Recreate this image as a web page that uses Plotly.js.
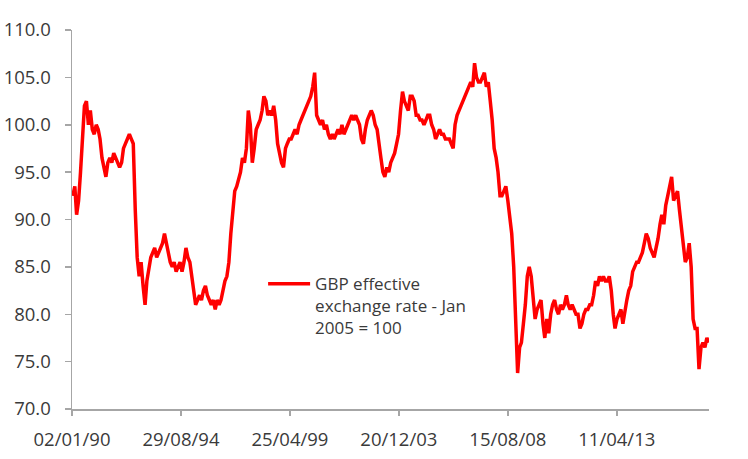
<!DOCTYPE html>
<html>
<head>
<meta charset="utf-8">
<script src="https://cdn.plot.ly/plotly-3.0.1.min.js"></script>
<style>
  html, body { margin: 0; padding: 0; background: #fff; }
  #chart { width: 748px; height: 459px; }
</style>
</head>
<body>
<div id="chart"></div>
<script>
// GBP effective exchange rate (Jan 2005 = 100), one value per month
var rate1990s = [
  92.5, 93.5, 90.5, 92.0, 95.0, 99.0, 102.0, 102.5, 100.0, 101.5, 99.5, 99.0,   // 1990
  100.0, 99.5, 98.5, 96.5, 95.5, 94.5, 96.0, 96.5, 96.0, 97.0, 96.5, 96.0,      // 1991
  95.5, 96.0, 97.5, 98.0, 98.5, 99.0, 98.5, 98.0, 91.0, 86.0, 84.0, 85.5,       // 1992
  83.0, 81.0, 83.5, 85.0, 86.0, 86.5, 87.0, 86.0, 86.5, 87.0, 87.5, 88.5,       // 1993
  87.5, 86.5, 85.5, 85.0, 85.5, 84.5, 85.0, 85.5, 84.5, 85.5, 87.0, 86.0,       // 1994
  85.5, 84.0, 82.0, 81.0, 81.5, 82.0, 81.5, 82.5, 83.0, 82.0, 81.5, 81.0,       // 1995
  81.5, 80.5, 81.5, 81.0, 81.5, 82.5, 83.5, 84.0, 85.5, 88.5, 91.0, 93.0,       // 1996
  93.5, 94.5, 95.0, 96.5, 96.0, 97.5, 101.5, 100.0, 96.0, 97.5, 99.5, 100.0,    // 1997
  100.5, 101.5, 103.0, 102.5, 101.0, 101.5, 101.0, 102.0, 100.5, 98.0, 97.0, 96.0, // 1998
  95.5, 97.5, 98.0, 98.5, 98.5, 99.0, 99.5, 99.0, 100.0, 100.5, 101.0, 101.5    // 1999
];
var rate2000s = [
  102.0, 102.5, 103.0, 104.0, 105.5, 101.0, 100.5, 100.0, 100.5, 99.5, 100.0, 99.0, // 2000
  98.5, 99.0, 98.5, 99.0, 99.5, 99.0, 100.0, 99.0, 99.5, 100.0, 100.5, 101.0,   // 2001
  100.5, 101.0, 100.5, 100.0, 98.5, 98.0, 99.5, 100.5, 101.0, 101.5, 101.0, 100.0, // 2002
  99.5, 97.5, 96.5, 95.0, 94.5, 95.5, 95.0, 96.0, 96.5, 97.0, 98.0, 99.0,       // 2003
  101.5, 103.5, 102.5, 102.0, 101.5, 103.0, 103.0, 102.5, 101.0, 101.0, 100.5, 100.5, // 2004
  100.0, 100.5, 101.0, 101.0, 100.0, 99.5, 98.5, 99.0, 99.5, 99.0, 99.0, 98.5,  // 2005
  98.5, 98.5, 98.0, 97.5, 100.0, 101.0, 101.5, 102.0, 102.5, 103.0, 103.5, 104.0, // 2006
  104.5, 104.0, 106.5, 105.0, 104.5, 104.5, 105.0, 105.5, 104.0, 104.5, 102.5, 100.5, // 2007
  97.5, 96.5, 95.0, 92.5, 92.5, 93.0, 93.5, 92.0, 90.0, 88.5, 85.0, 78.5,       // 2008
  73.8, 76.5, 77.0, 79.0, 81.0, 84.0, 85.0, 84.0, 82.0, 79.5, 80.5, 81.0        // 2009
];
var rate2010s = [
  81.5, 79.0, 77.5, 79.5, 78.0, 80.0, 81.0, 81.5, 80.5, 80.0, 81.0, 80.5,       // 2010
  81.0, 82.0, 81.0, 80.5, 81.0, 80.5, 80.0, 80.0, 78.5, 79.0, 80.0, 80.5,       // 2011
  80.5, 81.0, 81.0, 82.0, 83.5, 83.0, 84.0, 83.5, 84.0, 83.5, 83.5, 84.0,       // 2012
  82.5, 80.0, 78.5, 79.5, 80.0, 80.5, 79.0, 80.5, 81.5, 82.5, 83.0, 84.5,       // 2013
  85.0, 85.5, 85.5, 86.0, 86.5, 87.5, 88.5, 88.0, 87.0, 86.5, 86.0, 87.0,       // 2014
  88.0, 89.5, 90.5, 89.5, 91.5, 92.5, 93.5, 94.5, 92.0, 92.5, 93.0, 91.0,       // 2015
  89.0, 86.5, 85.5, 86.0, 87.5, 85.0, 79.5, 78.5, 78.5, 74.2, 76.5, 77.0,       // 2016
  76.5, 77.5, 77.0                                                              // 2017
];

// Excel put a tick every 1700 days from the first observation
var tickDates = ['1990-01-02', '1994-08-29', '1999-04-25', '2003-12-20', '2008-08-15', '2013-04-11'];
var tickLabels = ['02/01/90', '29/08/94', '25/04/99', '20/12/03', '15/08/08', '11/04/13'];

var rates = rate1990s.concat(rate2000s, rate2010s);
var dates = [];
rates.forEach(function(v, i) {
  var year = 1990 + Math.floor(i / 12);
  var month = i % 12 + 1;
  dates.push(year + '-' + (month < 10 ? '0' : '') + month + '-15');
});

var axisColor = '#a6a6a6';

var data = [{
  x: dates,
  y: rates,
  type: 'scatter',
  mode: 'lines',
  name: 'GBP effective<br>exchange rate - Jan<br>2005 = 100',
  line: {color: '#ff0000', width: 3.5}
}];

var layout = {
  width: 748,
  height: 459,
  margin: {l: 72, r: 39, t: 30, b: 50},
  paper_bgcolor: '#ffffff',
  plot_bgcolor: '#ffffff',
  font: {family: 'Open Sans, sans-serif', color: '#3a3a3a'},
  showlegend: true,
  legend: {
    x: 0.3, y: 0.377, xanchor: 'left', yanchor: 'top',
    valign: 'top', itemwidth: 42,
    bgcolor: 'rgba(0,0,0,0)',
    font: {size: 17}
  },
  xaxis: {
    type: 'date',
    range: ['1990-01-02', '2017-03-20'],
    tickmode: 'array', tickvals: tickDates, ticktext: tickLabels,
    showgrid: false, zeroline: false,
    showline: true, linecolor: axisColor, linewidth: 2,
    ticks: 'outside', ticklen: 5, tickwidth: 2, tickcolor: axisColor,
    tickfont: {size: 18.5},
    ticklabelstandoff: 8
  },
  yaxis: {
    range: [70, 110], tick0: 70, dtick: 5, tickformat: '.1f',
    showgrid: false, zeroline: false,
    showline: true, linecolor: axisColor, linewidth: 1.5,
    ticks: 'outside', ticklen: 6, tickwidth: 1.5, tickcolor: axisColor,
    tickfont: {size: 18.5},
    ticklabelstandoff: 10
  }
};

Plotly.newPlot('chart', data, layout, {displayModeBar: false, staticPlot: true});
</script>
</body>
</html>
